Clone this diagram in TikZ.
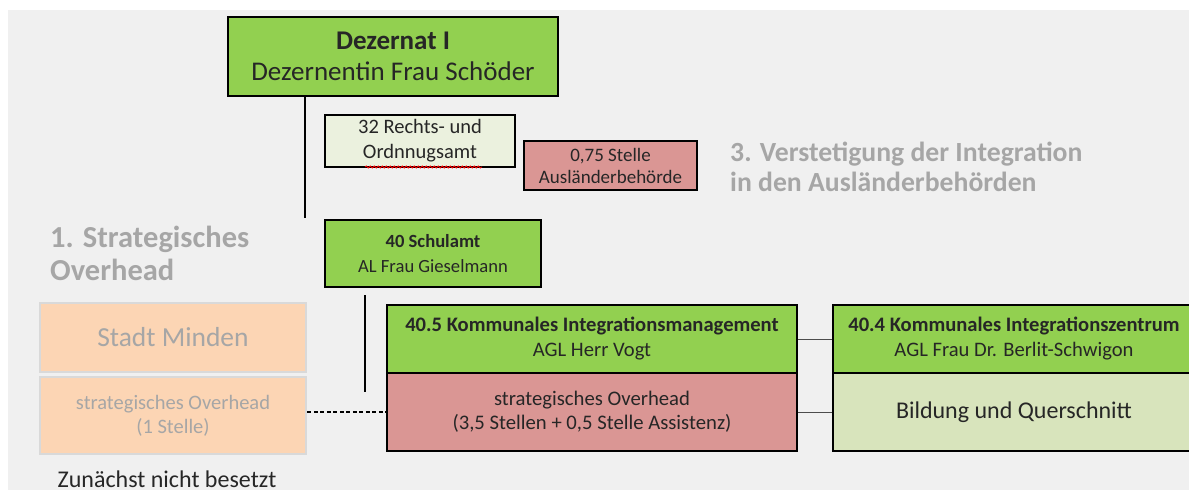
\documentclass[tikz,border=0pt]{standalone}
\usepackage{fontspec}
\setmainfont{Carlito}
\usetikzlibrary{decorations.pathmorphing}
\definecolor{bg}{HTML}{F0F0F0}
\definecolor{grn}{HTML}{92D050}
\definecolor{pnk}{HTML}{DA9694}
\definecolor{crm}{HTML}{EBF1DE}
\definecolor{lgr}{HTML}{D8E4BC}
\definecolor{pch}{HTML}{FCD5B4}
\definecolor{pbd}{HTML}{D9D9D9}
\definecolor{gtx}{HTML}{A6A6A6}
\tikzset{
  box/.style={draw=black, line width=2.6pt, inner sep=0pt, align=center, text=black!85},
  pbox/.style={draw=pbd, line width=2.6pt, fill=pch, inner sep=0pt, align=center, text=gtx},
  title/.style={text=gtx, inner sep=0pt, align=left, anchor=base west},
  conn/.style={line width=2.6pt, black},
  thin/.style={line width=1pt, black!70},
}
\begin{document}
\begin{tikzpicture}[x=1pt,y=-1pt]
\useasboundingbox (0,0) rectangle (1189,490);
\fill[bg] (8,10) rectangle (1189,490);
% top
\node[box, fill=grn, minimum width=330, minimum height=79, font=\fontsize{27}{31}\selectfont] (dez) at (393,56.5)
  {\textbf{Dezernat I}\\ Dezernentin Frau Schöder};
\node[box, fill=crm, minimum width=190, minimum height=52, font=\fontsize{20.5}{25}\selectfont] (ro) at (420,141)
  {32 Rechts- und\\ Ordnnugsamt};
\draw[red, line width=0.8pt, decoration={snake, amplitude=1pt, segment length=4pt}, decorate] (365,167) -- (482,167);
\node[box, fill=pnk, minimum width=173, minimum height=49, font=\fontsize{19}{22}\selectfont] (ab) at (610.5,165.5)
  {0,75 Stelle\\ Ausländerbehörde};
\node[title, font=\fontsize{27.7}{30}\selectfont\bfseries] (t3) at (730,191.5)
  {3. Verstetigung der Integration\\ in den Ausländerbehörden};
\coordinate (l1) at (305,218);
\draw[conn] (dez.south -| l1) -- (l1);
% Schulamt
\node[box, fill=grn, minimum width=216, minimum height=67, font=\fontsize{18.6}{25}\selectfont] (sa) at (433,253.5)
  {\textbf{40 Schulamt}\\ AL Frau Gieselmann};
\node[title, font=\fontsize{30.5}{33}\selectfont\bfseries] (t1) at (50,280)
  {1. Strategisches\\ Overhead};
\coordinate (l2a) at (365,295);
\coordinate (l2b) at (365,392);
\draw[conn] (l2a) -- (l2b);
% left peach
\node[pbox, minimum width=266, minimum height=69, font=\fontsize{27.5}{30}\selectfont] (sm) at (173,337.5)
  {Stadt Minden};
\node[pbox, minimum width=266, minimum height=77, font=\fontsize{20.5}{24}\selectfont] (so) at (173,415.5)
  {strategisches Overhead\\ (1 Stelle)};
\node[inner sep=0pt, text=black!85, anchor=base, font=\fontsize{24}{28}\selectfont] (zn) at (167,487) {Zunächst nicht besetzt};
% 40.5
\node[box, fill=grn, minimum width=410, minimum height=68, font=\fontsize{20.6}{25}\selectfont] (imt) at (592,339)
  {\textbf{40.5 Kommunales Integrationsmanagement}\\ AGL Herr Vogt};
\node[box, fill=pnk, minimum width=410, minimum height=78, font=\fontsize{20.7}{24}\selectfont] (imb) at (592,412)
  {strategisches Overhead\\ (3,5 Stellen + 0,5 Stelle Assistenz)};
% 40.4
\node[box, fill=grn, minimum width=362, minimum height=68, font=\fontsize{20.6}{25}\selectfont] (izt) at (1014,339)
  {\textbf{40.4 Kommunales Integrationszentrum}\\ AGL Frau Dr. Berlit-Schwigon};
\node[box, fill=lgr, minimum width=362, minimum height=78, font=\fontsize{24}{28}\selectfont] (izb) at (1014,412)
  {Bildung und Querschnitt};
% connectors
\draw[line width=1.2pt, dash pattern=on 4pt off 2.5pt] (so.east |- imb.west) -- (imb.west);
\draw[thin] (imt.east) -- (izt.west);
\draw[thin] (imb.east) -- (izb.west);
\end{tikzpicture}
\end{document}
